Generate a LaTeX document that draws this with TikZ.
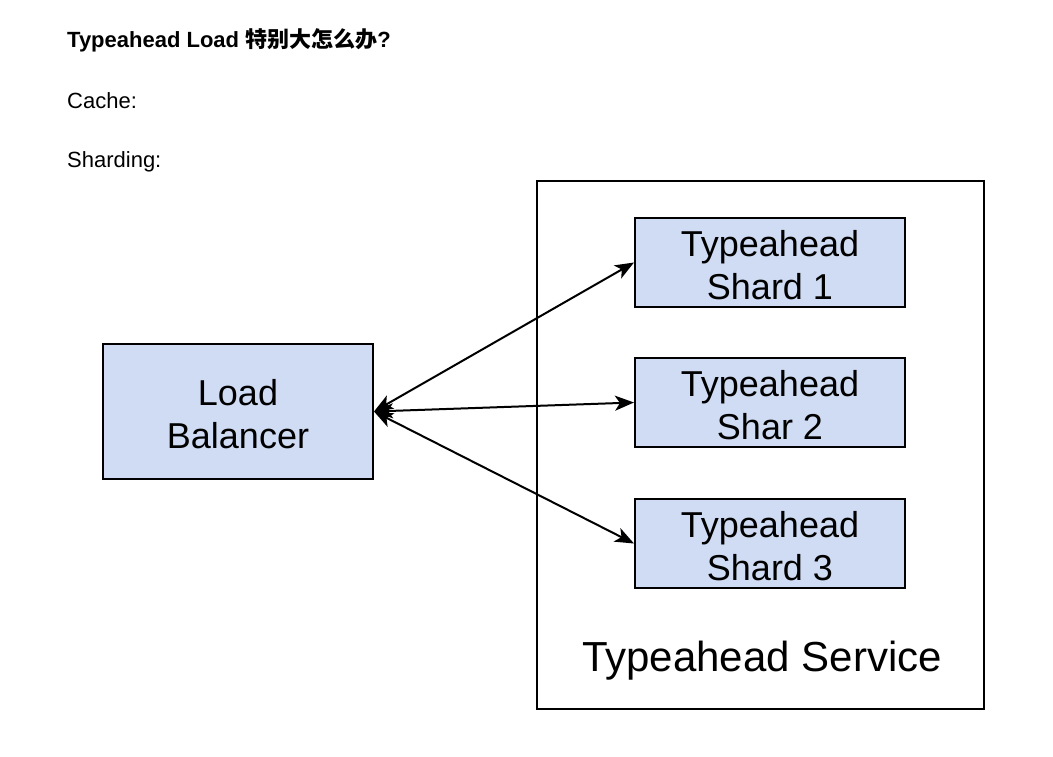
\documentclass[tikz,border=0pt]{standalone}
\usepackage{fontspec}
\setmainfont{Liberation Sans}
\newfontfamily\cjk{Noto Sans CJK SC}
\usetikzlibrary{arrows.meta}
\definecolor{boxblue}{RGB}{208,220,243}
\newcommand{\upstrut}{\rule{0pt}{30.5pt}}
\tikzset{
  bluebox/.style={draw=black, line width=2pt, fill=boxblue, minimum width=270pt, inner sep=0pt, align=center, font=\fontsize{36}{43}\selectfont},
  conn/.style={line width=2pt, {Stealth[length=19pt,width=15pt,inset=5pt]}-{Stealth[length=19pt,width=15pt,inset=5pt]}},
  plain/.style={anchor=base west, inner sep=0pt, font=\fontsize{22}{26}\selectfont}
}
\begin{document}
\begin{tikzpicture}[x=1pt,y=-1pt]
\useasboundingbox[fill=white] (0,0) rectangle (1053,756);
\node[plain, font=\fontsize{22}{26}\selectfont\bfseries] (title) at (67,47) {Typeahead Load {\cjk 特别大怎么办}?};
\node[plain] (cache) at (67,108) {Cache:};
\node[plain] (sharding) at (67,167) {Sharding:};
\draw[line width=2pt] (537,181) rectangle (984,709);
\node[inner sep=0pt, font=\fontsize{42}{50}\selectfont] (svc) at (762,661) {Typeahead Service};
\node[bluebox, minimum height=135pt] (lb) at (238,411.5) {\upstrut Load\\Balancer};
\node[bluebox, minimum height=89pt] (s1) at (770,262.5) {\upstrut Typeahead\\Shard 1};
\node[bluebox, minimum height=89pt] (s2) at (770,402.5) {\upstrut Typeahead\\Shar 2};
\node[bluebox, minimum height=89pt] (s3) at (770,543.5) {\upstrut Typeahead\\Shard 3};
\draw[conn] (lb.east) -- (s1.west);
\draw[conn] (lb.east) -- (s2.west);
\draw[conn] (lb.east) -- (s3.west);
\end{tikzpicture}
\end{document}
